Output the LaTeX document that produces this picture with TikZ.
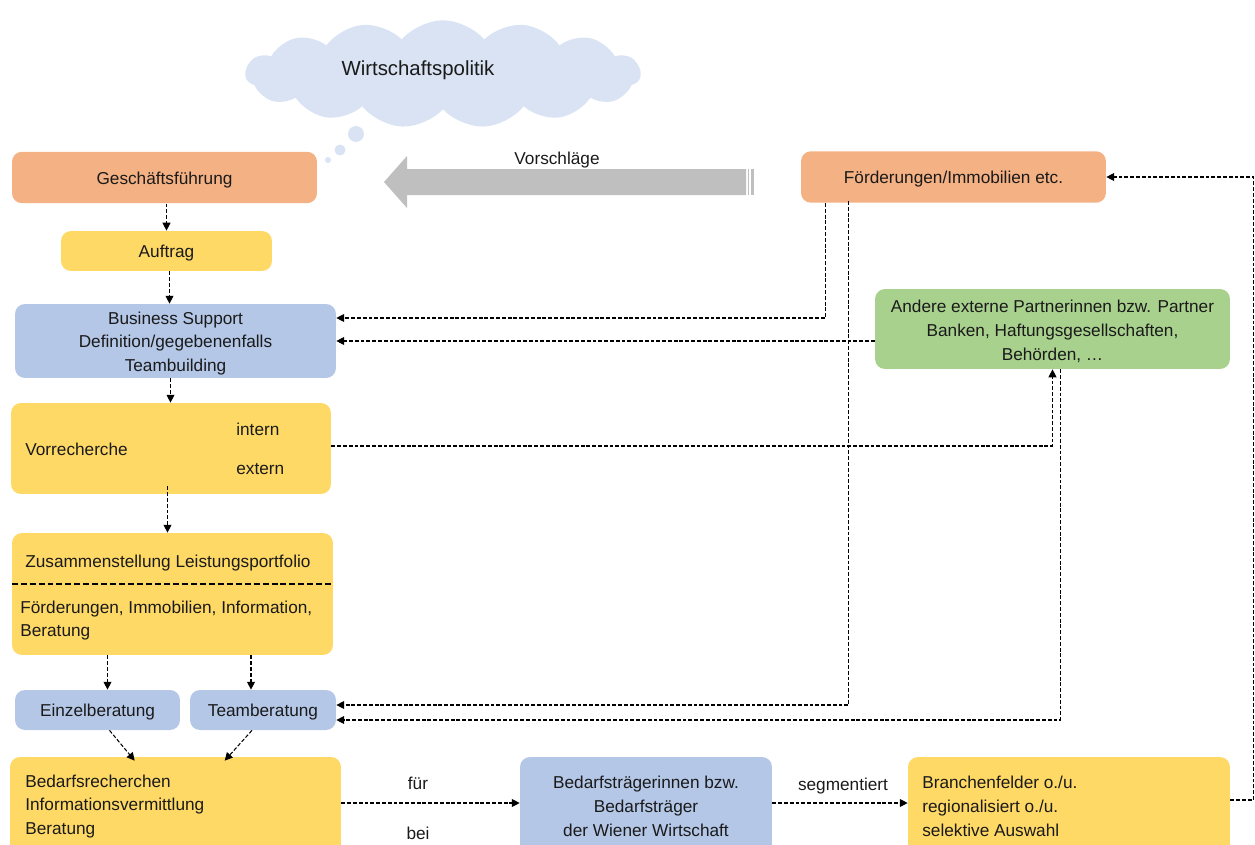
\documentclass[tikz,border=0pt]{standalone}
\usepackage{fontspec}
\setmainfont{Liberation Sans}
\usetikzlibrary{shapes.symbols,arrows.meta,calc}

\definecolor{gforange}{HTML}{F4B183}
\definecolor{gfyellow}{HTML}{FFD966}
\definecolor{gfblue}{HTML}{B4C7E7}
\definecolor{gfgreen}{HTML}{A9D18E}
\definecolor{gfcloud}{HTML}{DAE3F3}
\definecolor{gfgray}{HTML}{BFBFBF}
\definecolor{gftext}{HTML}{1A1A1A}

\tikzset{
  box/.style={rounded corners=0.2cm, inner sep=0pt},
  orangebox/.style={box, fill=gforange, minimum height=1.03cm},
  yellowbox/.style={box, fill=gfyellow},
  bluebox/.style={box, fill=gfblue},
  greenbox/.style={box, fill=gfgreen},
  lbl/.style={inner sep=0pt, align=center, text=gftext, yshift=-0.05cm},
  txt/.style={lbl, anchor=west, align=left},
  flow/.style={line width=0.6pt, dash pattern=on 2.2pt off 1.1pt, -{Triangle[length=4.5pt,width=4.5pt]}},
}

\begin{document}
\begin{tikzpicture}[x=0.02cm, y=-0.02cm, font=\fontsize{9.8}{13.6}\selectfont]

\useasboundingbox (0,0) rectangle (1255,845);
\clip (0,0) rectangle (1255,845);

\node[cloud, cloud puffs=15, cloud puff arc=100, aspect=3.6, fill=gfcloud, minimum width=7.9cm, minimum height=2.15cm] (wipo) at (443,74) {};
\node[lbl, font=\fontsize{11.6}{14}\selectfont] (wipotext) at (418,68) {Wirtschaftspolitik};
\fill[gfcloud] (356,134) circle[radius=0.16cm];
\fill[gfcloud] (340,150) circle[radius=0.11cm];
\fill[gfcloud] (328,160) circle[radius=0.06cm];

\fill[gfgray] (746,169) -- (407,169) -- (407,156) -- (384,182) -- (407,208) -- (407,195) -- (746,195) -- cycle;
\fill[gfgray] (747.5,169) rectangle (749,195);
\fill[gfgray] (751,169) rectangle (754,195);
\node[lbl] (vors) at (557,158) {Vorschläge};

\node[orangebox, minimum width=6.1cm] (gf) at (164.5,177.5) {};
\node[lbl] (gftext) at (gf) {Geschäftsführung};
\node[yellowbox, minimum width=4.22cm, minimum height=0.8cm] (auftrag) at (166.5,251) {};
\node[lbl] (auftragtext) at (auftrag) {Auftrag};
\node[bluebox, minimum width=6.42cm, minimum height=1.48cm] (bsup) at (175.5,341) {};
\node[lbl] (bsuptext) at (bsup) {Business Support\\Definition/gegebenenfalls\\Teambuilding};

\node[yellowbox, minimum width=6.4cm, minimum height=1.82cm] (vorr) at (171,448.5) {};
\node[txt] (vorrtext) at (25,447) {Vorrecherche};
\node[txt] (intern) at (236,427) {intern};
\node[txt] (extern) at (236,467) {extern};

\node[yellowbox, minimum width=6.42cm, minimum height=2.44cm] (zus) at (172.5,594) {};
\draw[line width=0.6pt, dash pattern=on 3.4pt off 1.7pt] ($(zus.west)+(0,-10)$) -- ($(zus.east)+(0,-10)$);
\node[txt] (zustitle) at (25,561) {Zusammenstellung Leistungsportfolio};
\node[txt] (zustext) at (20,618) {Förderungen, Immobilien, Information,\\Beratung};

\node[bluebox, minimum width=3.3cm, minimum height=0.8cm] (einz) at (97.5,710) {};
\node[lbl] (einztext) at (einz) {Einzelberatung};
\node[bluebox, minimum width=2.92cm, minimum height=0.8cm] (team) at (263,710) {};
\node[lbl] (teamtext) at (team) {Teamberatung};

\node[yellowbox, minimum width=6.62cm, minimum height=1.96cm] (bedr) at (175.5,806) {};
\node[txt] (bedrtext) at (25,804) {Bedarfsrecherchen\\Informationsvermittlung\\Beratung};
\node[bluebox, minimum width=5.04cm, minimum height=1.96cm] (bedt) at (646,806) {};
\node[lbl] (bedttext) at (646,804) {Bedarfsträgerinnen bzw.\\Bedarfsträger\\der Wiener Wirtschaft};
\node[yellowbox, minimum width=6.44cm, minimum height=1.96cm] (branch) at (1069,806) {};
\node[txt] (branchtext) at (922,804) {Branchenfelder o./u.\\regionalisiert o./u.\\selektive Auswahl};

\node[orangebox, minimum width=6.1cm] (foerd) at (953.5,177) {};
\node[lbl] (foerdtext) at (foerd) {Förderungen/Immobilien etc.};
\node[greenbox, minimum width=7.1cm, minimum height=1.6cm] (andere) at (1052.5,329) {};
\node[lbl] (anderetext) at (andere) {Andere externe Partnerinnen bzw. Partner\\Banken, Haftungsgesellschaften,\\Behörden, \dots};

\draw[flow] (auftrag.north |- gf.south) -- (auftrag.north);
\draw[flow] ($(auftrag.south)+(3,0)$) -- ($(auftrag.south |- bsup.north)+(3,0)$);
\draw[flow] ($(bsup.south)+(-5,0)$) -- ($(bsup.south |- vorr.north)+(-5,0)$);
\draw[flow] ($(vorr.south)+(-3.5,-8)$) -- ($(vorr.south |- zus.north)+(-3.5,0)$);
\draw[flow] ($(einz.north |- zus.south)+(10,0)$) -- ($(einz.north)+(10,0)$);
\draw[flow] ($(team.north |- zus.south)+(-12,0)$) -- ($(team.north)+(-12,0)$);
\draw[flow] ($(einz.south)+(12,0)$) -- ($(bedr.north west)+(125,4)$);
\draw[flow] ($(team.south)+(-11,0)$) -- ($(bedr.north west)+(215,4)$);

\draw[flow] ($(foerd.south west)+(25,0)$) |- ($(bsup.east)+(0,-23)$);
\draw[flow] ($(foerd.south west)+(48,-2)$) |- ($(team.east)+(0,-5)$);
\draw[flow] (andere.west |- bsup.east) -- (bsup.east);
\draw[flow] ($(vorr.east)+(0,-2.5)$) -| (andere.south);
\draw[flow] ($(andere.south)+(8,0)$) |- ($(team.east)+(0,10)$);

\draw[flow] ($(bedr.east)+(0,-3)$) -- ($(bedt.west)+(0,-3)$);
\node[lbl] (fuer) at (418,781) {für};
\node[lbl] (bei) at (418,831) {bei};
\draw[flow] ($(bedt.east)+(0,-3)$) -- ($(branch.west)+(0,-3)$);
\node[lbl] (segm) at (843,784) {segmentiert};
\draw[flow] ($(branch.east)+(0,-6)$) -- ++(23,0) |- (foerd.east);

\end{tikzpicture}
\end{document}
